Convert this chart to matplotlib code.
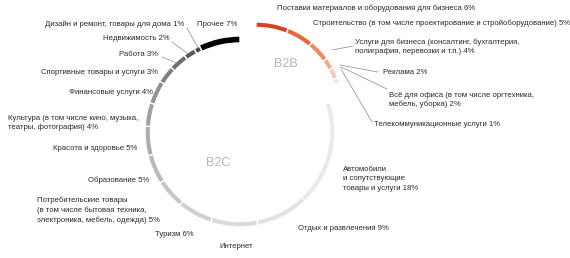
import matplotlib
matplotlib.use("Agg")
import matplotlib.pyplot as plt

# ---------------------------------------------------------
# DATA (shares of advertisers by sector, %)
# ---------------------------------------------------------
b2b_labels = [
    "Поставки материалов и оборудования для бизнеса 6%",
    "Строительство (в том числе проектирование и стройоборудование) 5%",
    "Услуги для бизнеса (консалтинг, бухгалтерия,\nполиграфия, перевозки и т.п.) 4%",
    "Реклама 2%",
    "Всё для офиса (в том числе оргтехника,\nмебель, уборка) 2%",
    "Телекоммуникационные услуги 1%",
]
b2b_values = [6, 5, 4, 2, 2, 1]

b2c_labels = [
    "Автомобили\nи сопутствующие\nтовары и услуги 18%",
    "Отдых и развлечения 9%",
    "Интернет",
    "Туризм 6%",
    "Потребительские товары\n(в том числе бытовая техника,\nэлектроника, мебель, одежда) 5%",
    "Образование 5%",
    "Красота и здоровье 5%",
    "Культура (в том числе кино, музыка,\nтеатры, фотография) 4%",
    "Финансовые услуги 4%",
    "Спортивные товары и услуги 3%",
    "Работа 3%",
    "Недвижимость 2%",
    "Дизайн и ремонт, товары для дома 1%",
]
b2c_values = [18, 9, 8, 6, 5, 5, 5, 4, 4, 3, 3, 2, 1]

other_label = "Прочее 7%"
other_value = 7

# ---------------------------------------------------------
# STYLE
# ---------------------------------------------------------
b2b_colors = ["#d8401f", "#e8673d", "#ee8a64", "#f2ab8f", "#f6c9b8", "#fbe4db"]
b2c_colors = ["#e9e9e9", "#e2e2e2", "#dadada", "#d0d0d0", "#c6c6c6", "#bababa",
              "#adadad", "#a0a0a0", "#929292", "#828282", "#6f6f6f", "#5b5b5b",
              "#454545"]
other_color = "#000000"

W, H = 570, 258
plt.rcParams["font.family"] = ["Liberation Sans", "DejaVu Sans"]
TXT = "#2a2a2a"
FS = 5.6

fig = plt.figure(figsize=(W / 100, H / 100), dpi=100, facecolor="white")
ax = fig.add_axes([0, 0, 1, 1])


def py(y):
    # pixel row (from top) -> data y
    return H - y


all_values = b2b_values + b2c_values + [other_value]
n_b2b = len(b2b_values)

# B2C + other ring (B2B slots invisible)
ring_colors = ["none"] * n_b2b + b2c_colors + [other_color]
wedges, _ = ax.pie(all_values, colors=ring_colors, radius=95,
                   center=(240, py(132)), startangle=90, counterclock=False,
                   wedgeprops=dict(width=5.5, edgecolor="white", linewidth=1.0))
for w in wedges[:n_b2b]:
    w.set_visible(False)
wedges[-1].set_radius(96)
wedges[-1].set_width(7)

# B2B ring, pulled out as a group
ring_colors = b2b_colors + ["none"] * (len(all_values) - n_b2b)
wedges2, _ = ax.pie(all_values, colors=ring_colors, radius=88,
                    center=(256, py(110)), startangle=90, counterclock=False,
                    wedgeprops=dict(width=5.5, edgecolor="white", linewidth=1.0))
for w in wedges2[n_b2b:]:
    w.set_visible(False)

# center labels
ax.text(286, py(64), "B2B", fontsize=9, color="#b5b5b5", ha="center", va="center")
ax.text(218, py(163), "B2C", fontsize=9, color="#b5b5b5", ha="center", va="center")

# label anchors (pixel coords) and alignment
b2b_pos = [(277, 8, "left"), (313, 23, "left"), (355, 47, "left"),
           (383, 72, "left"), (389, 100, "left"), (374, 125, "left")]
b2c_pos = [(343, 179, "left"), (298, 229, "left"), (219, 246, "left"),
           (155, 235, "left"), (37, 210, "left"), (149, 180, "right"),
           (137, 149, "right"), (8, 123, "left"), (153, 93, "right"),
           (158, 72, "right"), (158, 55, "right"), (170, 39, "right"),
           (184, 24, "right")]
other_pos = (197, 24, "left")

for lab, (x, y, ha) in zip(b2b_labels + b2c_labels + [other_label],
                           b2b_pos + b2c_pos + [other_pos]):
    ax.text(x, py(y), lab, fontsize=FS, color=TXT, ha=ha, va="center",
            linespacing=1.45)

# leader lines
leaders = [((187, 28), (198, 48)), ((172, 42), (187, 53)),
           ((162, 57), (177, 63)), ((332, 50), (353, 46)),
           ((340, 65), (378, 72)), ((341, 67), (387, 89)),
           ((341, 69), (372, 122))]
for (x0, y0), (x1, y1) in leaders:
    ax.plot([x0, x1], [py(y0), py(y1)], color="#9a9a9a", lw=0.6, zorder=1)

ax.set_xlim(0, W)
ax.set_ylim(0, H)
ax.set_aspect("equal")
ax.axis("off")

fig.savefig("out.png", dpi=100, facecolor="white")
